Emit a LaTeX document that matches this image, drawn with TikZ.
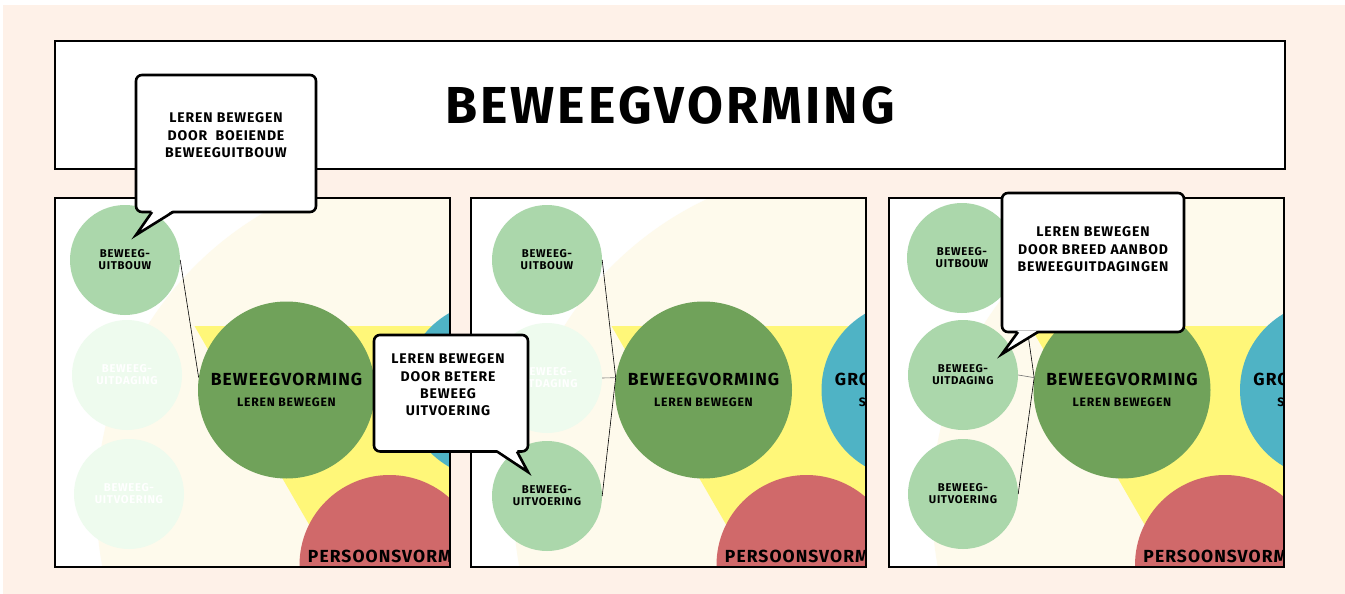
\documentclass[tikz,border=0pt]{standalone}
\usepackage{fontspec}
\setmainfont{Fira Sans}[LetterSpace=6]
\usepackage{tikz}
\usetikzlibrary{positioning}

\definecolor{peach}{HTML}{FEF1E8}
\definecolor{cream}{HTML}{FEFAEC}
\definecolor{yellowc}{HTML}{FFF779}
\definecolor{mainc}{HTML}{70A25A}
\definecolor{lightgreen}{HTML}{ABD7AB}
\definecolor{fadedgreen}{HTML}{EEFBEE}
\definecolor{bluec}{HTML}{4FB3C5}
\definecolor{redc}{HTML}{D0696A}
\newcommand\bvsub{\fontsize{12.2}{21.5}\selectfont}

\begin{document}
\begin{tikzpicture}[x=1pt, y=-1pt,
  panel/.style={draw, line width=1.8pt},
  smallc/.style={circle, fill=lightgreen, minimum size=110pt, inner sep=0pt, align=center,
    font=\fontsize{11.3}{12}\selectfont\bfseries},
  fadedc/.style={smallc, fill=fadedgreen, text=white},
  bigc/.style={circle, minimum size=177pt, inner sep=0pt, align=center,
    font=\fontsize{17.5}{21.5}\selectfont\bfseries},
  bigtext/.style={inner sep=0pt, font=\fontsize{17.5}{21.5}\selectfont\bfseries},
  link/.style={line width=0.6pt},
  greylink/.style={link, draw=black!55},
  bubble/.style={draw, fill=white, line width=2.6pt, rounded corners=6pt, inner sep=0pt},
  bubbletext/.style={align=center, inner sep=0pt, font=\fontsize{14}{17.3}\selectfont\bfseries},
  tail/.style={line width=2.6pt, line join=miter},
  ]
  \useasboundingbox (0,0) rectangle (1345,594);
  \fill[white] (0,0) rectangle (1345,594);
  \fill[peach] (3,5) rectangle (1345,594);

  \node[draw, fill=white, line width=1.5pt, minimum width=1230pt, minimum height=128pt,
    font=\fontsize{52}{60}\selectfont\bfseries] (titlebar) at (670,105) {BEWEEGVORMING};

  % the three panels
  \foreach \p/\px/\gx in {1/55/286.5, 2/471/703.5, 3/889/1122}{
    \begin{scope}
      \clip (\px,198) rectangle ++(395,369);
      \fill[white] (\px,198) rectangle ++(395,369);
      \fill[cream] (\gx+147,504) circle[radius=337];
      \fill[yellowc] (\gx-92,326) -- (\gx+298,326) -- (\gx+103,664) -- cycle;
      \fill[redc] (\gx+103,565) circle[radius=90];
      \node[bigtext] (pv\p) at (\gx+109,556) {PERSOONSVORMING};
      \node[bigc, fill=bluec] (gv\p) at (\gx+206.5,390) {GROEPSVORMING\\{\bvsub SAMEN BEWEGEN}};
      \node[bigc, fill=mainc] (bv\p) at (\gx,390) {BEWEEGVORMING\\{\bvsub LEREN BEWEGEN}};
    \end{scope}
  }

  % panel 1
  \node[smallc] (up1) at (125,260) {BEWEEG-\\UITBOUW};
  \node[fadedc] (ud1) at (127,375) {BEWEEG-\\UITDAGING};
  \node[fadedc] (uv1) at (129,494) {BEWEEG-\\UITVOERING};
  \draw[link] (up1.east) -- (bv1.172);

  % panel 2
  \node[smallc] (up2) at (547,260) {BEWEEG-\\UITBOUW};
  \node[fadedc] (ud2) at (547,378) {BEWEEG-\\UITDAGING};
  \node[smallc] (uv2) at (547,496) {BEWEEG-\\UITVOERING};
  \draw[link] (up2.east) -- (bv2.172) -- (uv2.east);
  \draw[greylink] (ud2.east) -- (bv2.172);

  % panel 3
  \node[smallc] (up3) at (962,258) {BEWEEG-\\UITBOUW};
  \node[smallc] (ud3) at (963,375) {BEWEEG-\\UITDAGING};
  \node[smallc] (uv3) at (963,494) {BEWEEG-\\UITVOERING};
  \draw[link] (up3.east) -- (bv3.172) -- (uv3.east);
  \draw[greylink] (ud3.east) -- (bv3.172);

  \foreach \px in {55,471,889}
    \draw[panel] (\px,198) rectangle ++(395,369);

  % callouts
  \node[bubble, minimum width=180pt, minimum height=137pt] (tip1) at (226,143.5) {};
  \fill[white] (152,210) -- (136,235) -- (173,210) -- cycle;
  \draw[tail] (152,212) -- (136,235) -- (173,212);
  \node[bubbletext, below=39pt of tip1.north] (tip1text) {LEREN BEWEGEN\\DOOR\ \ BOEIENDE\\BEWEEGUITBOUW};

  \node[bubble, minimum width=154pt, minimum height=116.5pt] (tip2) at (451,393.2) {};
  \fill[white] (497,450) -- (528,472) -- (517,450) -- cycle;
  \draw[tail] (497,451.5) -- (528,472) -- (517,451.5);
  \node[bubbletext, below=20pt of tip2.north, xshift=-3pt] (tip2text) {LEREN BEWEGEN\\DOOR BETERE\\BEWEEG\\UITVOERING};

  \node[bubble, minimum width=182pt, minimum height=139pt] (tip3) at (1093,262.5) {};
  \fill[white] (1018,330.5) -- (1002,354) -- (1038,330.5) -- cycle;
  \draw[tail] (1018,332) -- (1002,354) -- (1038,332);
  \node[bubbletext, below=35pt of tip3.north] (tip3text) {LEREN BEWEGEN\\DOOR BREED AANBOD\\BEWEEGUITDAGINGEN};
\end{tikzpicture}
\end{document}
